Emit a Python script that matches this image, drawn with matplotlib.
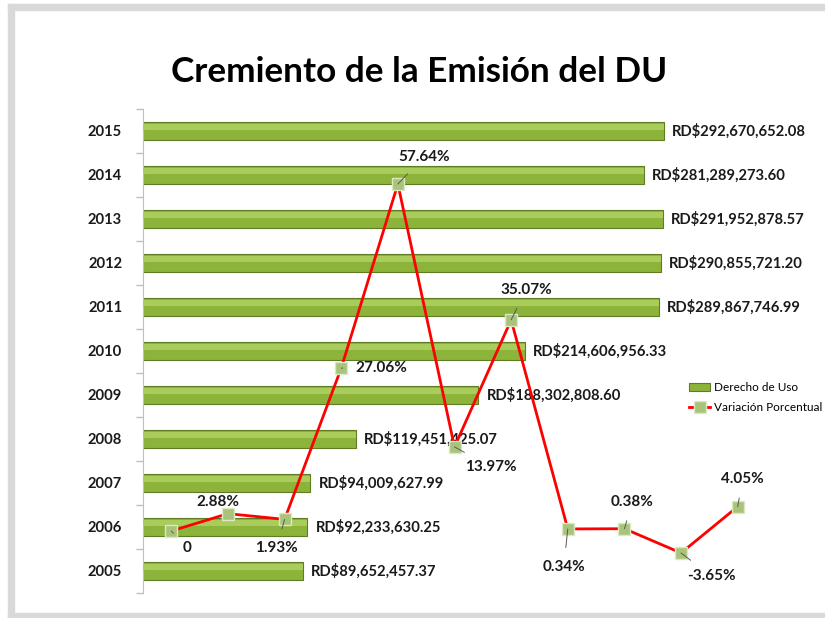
import numpy as np
import matplotlib
matplotlib.use("Agg")
from matplotlib import pyplot as plt
from matplotlib.patches import Rectangle

plt.rcParams['font.family'] = ['Lato', 'DejaVu Sans']

years = ['2005', '2006', '2007', '2008', '2009', '2010', '2011', '2012', '2013', '2014', '2015']
derecho_uso = [89652457.37, 92233630.25, 94009627.99, 119451425.07, 188302808.60,
               214606956.33, 289867746.99, 290855721.20, 291952878.57, 281289273.60,
               292670652.08]
bar_labels = ['RD$89,652,457.37', 'RD$92,233,630.25', 'RD$94,009,627.99', 'RD$119,451,425.07',
              'RD$188,302,808.60', 'RD$214,606,956.33', 'RD$289,867,746.99', 'RD$290,855,721.20',
              'RD$291,952,878.57', 'RD$281,289,273.60', 'RD$292,670,652.08']
variacion = [0, 2.88, 1.93, 27.06, 57.64, 13.97, 35.07, 0.34, 0.38, -3.65, 4.05]
var_labels = ['0', '2.88%', '1.93%', '27.06%', '57.64%', '13.97%', '35.07%',
              '0.34%', '0.38%', '-3.65%', '4.05%']
# label offsets in pixels (dx, dy) and whether a leader line is drawn
var_offsets = [(16, -17), (-10, 12), (-8, -29), (40, 0), (26, 27), (36, -20),
               (15, 30), (-4, -38), (8, 27), (30, -23), (5, 28)]
leaders = [True, False, True, True, True, True, True, True, True, True, True]

fig = plt.figure(figsize=(8.25, 6.18), dpi=100)
fig.patch.set_facecolor('white')
# grey outer frame
fig.add_artist(Rectangle((8 / 825, 0), 6 / 825, 1 - 4 / 618, transform=fig.transFigure,
                         color='#d9d9d9', zorder=0))
fig.add_artist(Rectangle((8 / 825, 1 - 10 / 618), 1, 6 / 618, transform=fig.transFigure,
                         color='#d9d9d9', zorder=0))
fig.add_artist(Rectangle((8 / 825, 0), 1, 5 / 618, transform=fig.transFigure,
                         color='#d9d9d9', zorder=0))

ax = fig.add_axes([143 / 825, 1 - 593 / 618, 623 / 825, 484 / 618])
ypos = np.arange(len(years))
bars = ax.barh(ypos, derecho_uso, height=0.42, color='#8db43a', edgecolor='#5e7d22',
               linewidth=0.8, label='Derecho de Uso', zorder=2)
# soft highlight on top of each bar
ax.barh(ypos + 0.09, derecho_uso, height=0.12, color='#a9cc5c', linewidth=0, zorder=3)
ax.bar_label(bars, labels=bar_labels, padding=6, fontsize=10.6, fontweight='bold', color='#1a1a1a')
ax.set_xlim(0, 350e6)
ax.set_ylim(-0.5, len(years) - 0.5)
ax.set_yticks(ypos)
ax.set_yticklabels(years, fontsize=10.6, fontweight='bold', color='#1a1a1a')
ax.set_yticks(np.arange(-0.5, len(years), 1), minor=True)
ax.tick_params(axis='y', which='major', length=0, pad=15)
ax.tick_params(axis='y', which='minor', length=5, color='#bfbfbf', width=1)
ax.set_xticks([])
for s in ['top', 'right', 'bottom']:
    ax.spines[s].set_visible(False)
ax.spines['left'].set_color('#bfbfbf')

ax2 = fig.add_axes(ax.get_position(), frameon=False)
xs = np.arange(len(variacion))
line, = ax2.plot(xs, variacion, color='#ff0000', linewidth=2, marker='s', markersize=9,
                 markerfacecolor='#a9c47a', markeredgecolor='#dbe8c4', markeredgewidth=1,
                 label='Variación Porcentual', zorder=5)
ax2.set_xlim(-0.5, len(variacion) - 0.5)
ax2.set_ylim(-10.3, 70.1)
ax2.set_xticks([])
ax2.set_yticks([])
for i, (v, lab) in enumerate(zip(variacion, var_labels)):
    dx, dy = var_offsets[i]
    ax2.annotate(lab, (i, v), xytext=(dx, dy), textcoords='offset pixels',
                 ha='center', va='center', fontsize=11, fontweight='bold', color='#1a1a1a',
                 arrowprops=dict(arrowstyle='-', color='#595959', lw=0.7,
                                 shrinkA=7, shrinkB=0) if leaders[i] else None,
                 zorder=6)

fig.legend(handles=[bars, line], labels=['Derecho de Uso', 'Variación Porcentual'],
           loc='upper left', bbox_to_anchor=(689 / 825, 1 - 382 / 618), frameon=False,
           fontsize=8.5, handlelength=1.8, handletextpad=0.3, labelspacing=0.8,
           borderpad=0, borderaxespad=0)

fig.text(419 / 825, 1 - 72 / 618, 'Cremiento de la Emisión del DU', ha='center', va='center',
         fontsize=25.3, fontweight='bold', color='black')

fig.savefig('out.png', dpi=100)
